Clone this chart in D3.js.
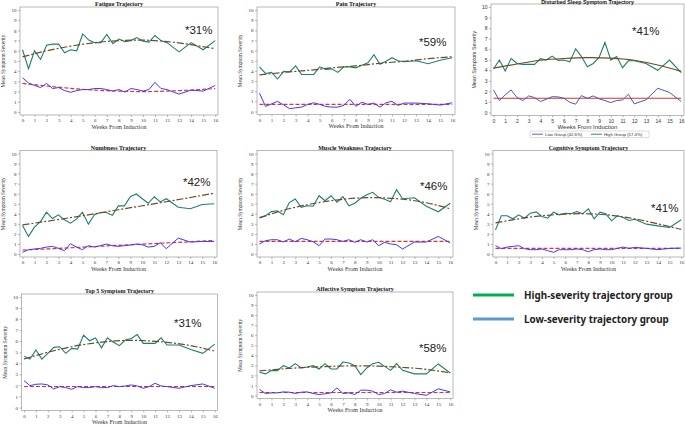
<!DOCTYPE html>
<html>
<head>
<meta charset="utf-8">
<script src="https://cdn.jsdelivr.net/npm/d3@7"></script>
<style>
  body { margin: 0; background: #fff; }
</style>
</head>
<body>
<div class="chart"></div>
<script>
// weeks from induction (half weeks up to 12, then weekly)
const weeks = [0, 0.5, 1, 1.5, 2, 2.5, 3, 3.5, 4, 4.5, 5, 5.5, 6, 6.5, 7, 7.5, 8, 8.5, 9, 9.5, 10, 10.5, 11, 11.5, 12, 13, 14, 15, 16];
const trendWeeks = [0, 2, 4, 6, 8, 10, 12, 14, 16];
const xTicks = d3.range(0, 17);
const yTicks = d3.range(0, 11);

const fatigueHigh = [6.1, 4.25, 6.0, 5.15, 6.55, 6.65, 6.65, 5.8, 6.1, 6.0, 7.65, 7.05, 6.8, 6.8, 7.6, 6.7, 7.15, 6.9, 7.0, 7.3, 6.95, 6.85, 7.5, 7.0, 6.8, 5.9, 6.8, 6.1, 7.0];
const fatigueLow = [3.35, 2.85, 2.6, 2.4, 2.8, 2.3, 2.4, 2.1, 1.93, 2.1, 2.2, 2.2, 2.3, 2.3, 2.2, 2.05, 2.2, 1.95, 2.3, 2.2, 2.05, 2.2, 2.9, 2.3, 2.2, 1.75, 2.15, 2.05, 2.6];
const fatigueHighTrend = [5.4, 6.0, 6.45, 6.8, 7.0, 7.05, 6.9, 6.6, 6.2];
const fatigueLowTrend = [2.8, 2.55, 2.32, 2.15, 2.05, 2.0, 2.05, 2.15, 2.3];

const painHigh = [4.4, 3.75, 3.85, 3.2, 3.95, 3.9, 4.5, 3.65, 3.65, 3.65, 4.4, 4.15, 4.2, 3.85, 4.4, 4.4, 4.3, 4.55, 4.8, 5.6, 4.65, 4.95, 5.3, 5.0, 4.9, 5.0, 4.7, 5.05, 5.3];
const painLow = [1.8, 0.5, 0.75, 1.0, 0.65, 0.28, 0.36, 0.43, 0.7, 0.86, 0.7, 0.5, 0.43, 0.43, 0.6, 1.2, 0.5, 0.92, 0.7, 0.83, 0.43, 0.86, 1.0, 0.6, 0.83, 0.83, 0.76, 0.63, 0.86];
const painHighTrend = [3.6, 3.85, 4.05, 4.3, 4.5, 4.75, 4.95, 5.2, 5.4];
const painLowTrend = [0.7, 0.7, 0.7, 0.7, 0.7, 0.7, 0.7, 0.7, 0.7];

const sleepHigh = [4.12, 4.97, 3.93, 5.13, 4.65, 4.56, 4.56, 4.56, 5.1, 4.97, 5.35, 4.94, 4.97, 4.8, 6.04, 5.3, 4.34, 4.65, 5.22, 6.64, 4.97, 5.3, 4.25, 4.9, 4.9, 4.65, 4.0, 4.97, 3.77];
const sleepLow = [2.14, 1.13, 1.67, 2.14, 1.42, 1.13, 1.57, 1.42, 1.04, 1.26, 1.5, 1.48, 1.35, 0.97, 0.79, 1.6, 1.35, 1.57, 1.3, 1.13, 0.94, 1.13, 1.19, 1.73, 0.82, 1.2, 2.3, 1.9, 1.04];
const sleepHighTrend = [4.2, 4.6, 4.95, 5.12, 5.2, 5.15, 4.95, 4.5, 3.9];
const sleepLowTrend = [1.35, 1.35, 1.35, 1.35, 1.35, 1.35, 1.35, 1.35, 1.35];

const numbHigh = [2.84, 1.75, 2.67, 3.23, 4.16, 3.53, 3.9, 3.4, 3.07, 3.47, 4.16, 2.97, 3.9, 4.13, 4.13, 3.86, 4.79, 4.79, 5.7, 5.97, 5.5, 5.05, 5.7, 5.18, 5.5, 4.65, 4.5, 4.92, 5.0];
const numbLow = [0.17, 0.43, 0.5, 0.56, 0.69, 0.76, 0.56, 0.33, 1.02, 0.69, 0.43, 0.83, 0.69, 0.83, 0.99, 0.83, 0.76, 0.83, 0.89, 0.99, 0.92, 0.69, 0.76, 1.12, 0.53, 1.58, 1.19, 1.25, 1.25];
const numbHighTrend = [2.9, 3.25, 3.62, 4.0, 4.4, 4.8, 5.2, 5.62, 6.05];
const numbLowTrend = [0.4, 0.5, 0.62, 0.74, 0.86, 0.98, 1.1, 1.22, 1.35];

const muscleHigh = [3.63, 3.8, 4.22, 4.3, 3.9, 5.12, 5.48, 4.65, 4.8, 4.75, 5.8, 5.3, 5.8, 5.15, 5.7, 4.8, 5.05, 5.55, 5.9, 6.14, 5.64, 5.45, 5.2, 6.4, 5.5, 5.6, 4.75, 4.2, 5.05];
const muscleLow = [1.0, 1.32, 1.42, 1.42, 1.19, 1.49, 1.22, 1.55, 1.42, 1.22, 0.83, 1.49, 1.49, 1.42, 1.25, 1.42, 1.16, 1.42, 1.19, 1.42, 0.83, 1.16, 1.0, 0.92, 0.5, 1.19, 1.19, 1.75, 1.1];
const muscleHighTrend = [3.6, 4.35, 4.9, 5.3, 5.55, 5.6, 5.45, 5.1, 4.5];
const muscleLowTrend = [1.25, 1.25, 1.25, 1.25, 1.25, 1.25, 1.25, 1.25, 1.25];

const cogHigh = [2.4, 3.8, 3.8, 3.5, 3.9, 3.56, 4.06, 4.19, 3.73, 3.56, 4.16, 3.9, 4.06, 4.0, 4.22, 4.0, 4.5, 3.5, 4.16, 4.0, 3.3, 3.8, 3.63, 3.33, 3.46, 2.97, 2.8, 2.64, 3.4];
const cogLow = [0.83, 0.53, 0.69, 0.76, 0.83, 0.53, 0.43, 0.43, 0.5, 0.33, 0.17, 0.43, 0.43, 0.43, 0.5, 0.43, 0.23, 0.43, 0.5, 0.43, 0.43, 0.56, 0.69, 0.56, 0.66, 0.56, 0.43, 0.56, 0.59];
const cogHighTrend = [3.1, 3.5, 3.8, 3.97, 4.0, 3.85, 3.5, 3.0, 2.45];
const cogLowTrend = [0.55, 0.55, 0.55, 0.55, 0.55, 0.55, 0.55, 0.55, 0.55];

const top5High = [4.65, 4.38, 5.2, 4.38, 4.9, 5.44, 5.5, 4.9, 5.35, 5.29, 6.55, 6.04, 6.3, 5.4, 6.3, 5.9, 5.6, 6.1, 6.25, 6.6, 5.8, 5.8, 5.8, 6.3, 5.65, 5.65, 5.25, 4.9, 5.74];
const top5Low = [2.43, 1.98, 2.1, 2.13, 2.04, 1.68, 1.89, 1.8, 1.65, 1.89, 1.8, 1.8, 1.89, 1.8, 1.8, 1.98, 1.89, 1.95, 2.04, 1.95, 1.74, 1.89, 2.19, 1.95, 1.89, 1.74, 1.98, 2.13, 1.74];
const top5HighTrend = [4.4, 5.0, 5.5, 5.85, 6.05, 6.05, 5.9, 5.6, 5.1];
const top5LowTrend = [1.9, 1.9, 1.9, 1.9, 1.9, 1.9, 1.9, 1.9, 1.9];

const affHigh = [2.31, 2.15, 2.48, 2.48, 2.97, 2.74, 3.17, 2.74, 2.84, 2.97, 2.64, 3.17, 2.64, 2.64, 3.33, 3.23, 2.97, 2.08, 2.74, 3.17, 3.3, 2.9, 2.5, 3.17, 2.5, 2.15, 2.15, 3.14, 2.24];
const affLow = [0.6, 0.2, 0.26, 0.26, 0.36, 0.33, 0.2, 0.33, 0.36, 0.2, 0.1, 0.17, 0.26, 0.76, 0.2, 0.26, 0.1, 0.53, 0.53, 0.43, 0.1, 0.2, 0.56, 0.33, 0.43, 0.2, 0.02, 0.66, 0.36];
const affHighTrend = [2.45, 2.65, 2.8, 2.9, 2.95, 2.92, 2.8, 2.6, 2.25];
const affLowTrend = [0.3, 0.3, 0.3, 0.3, 0.3, 0.3, 0.3, 0.3, 0.3];

const titles = ['Fatigue Trajectory', 'Pain Trajectory', 'Disturbed Sleep Symptom Trajectory',
  'Numbness Trajectory', 'Muscle Weakness Trajectory', 'Cognitive Symptom Trajectory',
  'Top 5 Symptom Trajectory', 'Affective Symptom Trajectory'];
const percents = ['*31%', '*59%', '*41%', '*42%', '*46%', '*41%', '*31%', '*58%'];
const sleepLegend = ['Low Group (42.6%)', 'High Group (57.4%)'];
const mainLegend = ['High-severity trajectory group', 'Low-severity trajectory group'];

// layout: frame box [x, y, w, h] and position of the percentage label
const panels = [
  { box: [20, 7, 198, 108], pct: [185, 33.5], high: fatigueHigh, low: fatigueLow, ht: fatigueHighTrend, lt: fatigueLowTrend },
  { box: [257, 7, 198, 107.5], pct: [419, 46], high: painHigh, low: painLow, ht: painHighTrend, lt: painLowTrend },
  { box: [491, 4, 193, 111.5], pct: [632, 35], high: sleepHigh, low: sleepLow, ht: sleepHighTrend, lt: sleepLowTrend, sas: true },
  { box: [20, 150.5, 197, 106.5], pct: [183, 186], high: numbHigh, low: numbLow, ht: numbHighTrend, lt: numbLowTrend },
  { box: [257, 150.5, 196, 106.5], pct: [420, 190], high: muscleHigh, low: muscleLow, ht: muscleHighTrend, lt: muscleLowTrend },
  { box: [493, 150.5, 191, 106.5], pct: [651, 212], high: cogHigh, low: cogLow, ht: cogHighTrend, lt: cogLowTrend },
  { box: [21.5, 294, 196, 116.5], pct: [174, 327], high: top5High, low: top5Low, ht: top5HighTrend, lt: top5LowTrend },
  { box: [257, 292, 196, 106.5], pct: [419, 352], high: affHigh, low: affLow, ht: affHighTrend, lt: affLowTrend }
];

const serif = 'Liberation Serif, Times New Roman, serif';
const sans = 'Liberation Sans, Arial, sans-serif';

const svg = d3.select('.chart')
  .append('svg')
  .attr('width', 685)
  .attr('height', 426);

panels.forEach((p, i) => {
  const [bx, by, bw, bh] = p.box;
  const font = p.sas ? sans : serif;
  const g = svg.append('g');

  const x = d3.scaleLinear().domain([0, 16]).range([bx + 2.5, bx + bw - 2.8]);
  const y = d3.scaleLinear().domain([0, 10]).range([by + bh - 3, by + 3]);

  g.append('rect')
    .attr('x', bx).attr('y', by).attr('width', bw).attr('height', bh)
    .attr('fill', 'none').attr('stroke', '#8a8a8a').attr('stroke-width', 0.6);

  const xAxis = g.append('g')
    .attr('transform', `translate(0, ${by + bh})`)
    .call(d3.axisBottom(x).tickValues(xTicks).tickSize(2).tickPadding(1.5).tickFormat(d3.format('d')));
  const yAxis = g.append('g')
    .attr('transform', `translate(${bx}, 0)`)
    .call(d3.axisLeft(y).tickValues(yTicks).tickSize(2).tickPadding(1.5).tickFormat(d3.format('d')));

  [xAxis, yAxis].forEach(a => {
    a.select('.domain').remove();
    a.selectAll('line').attr('stroke', '#777').attr('stroke-width', 0.5);
    a.selectAll('text').attr('font-size', 5).attr('font-family', font).attr('fill', '#333');
  });

  g.append('text')
    .attr('x', bx + bw / 2).attr('y', by + bh + 13.5)
    .attr('text-anchor', 'middle')
    .attr('font-family', font).attr('font-size', 6).attr('fill', '#333')
    .text('Weeks From Induction');

  g.append('text')
    .attr('transform', `translate(${bx - 15}, ${by + bh / 2}) rotate(-90)`)
    .attr('text-anchor', 'middle')
    .attr('font-family', font).attr('font-size', 5.3).attr('fill', '#333')
    .text('Mean Symptom Severity');

  g.append('text')
    .attr('x', bx + bw / 2).attr('y', p.sas ? by - 0.5 : by - 1)
    .attr('text-anchor', 'middle')
    .attr('font-family', font).attr('font-weight', 'bold')
    .attr('font-size', p.sas ? 5.3 : 6).attr('fill', '#111')
    .text(titles[i]);

  const dataLine = d3.line().x((d, k) => x(weeks[k])).y(d => y(d));
  const trendLine = d3.line().x((d, k) => x(trendWeeks[k])).y(d => y(d)).curve(d3.curveNatural);

  g.append('path').datum(p.lt)
    .attr('d', trendLine).attr('fill', 'none')
    .attr('stroke', p.sas ? '#d8352b' : '#e8302a').attr('stroke-width', 1.2)
    .attr('stroke-dasharray', p.sas ? null : '4,2');
  g.append('path').datum(p.low)
    .attr('d', dataLine).attr('fill', 'none')
    .attr('stroke', p.sas ? '#4a5bb0' : '#3a3aff').attr('stroke-width', 1);
  g.append('path').datum(p.high)
    .attr('d', dataLine).attr('fill', 'none')
    .attr('stroke', '#1f7f6c').attr('stroke-width', 1.1);
  g.append('path').datum(p.ht)
    .attr('d', trendLine).attr('fill', 'none')
    .attr('stroke', '#6e4a2a').attr('stroke-width', 1.2)
    .attr('stroke-dasharray', p.sas ? null : '7,2,2,2');

  g.append('text')
    .attr('x', p.pct[0]).attr('y', p.pct[1])
    .attr('font-family', sans).attr('font-size', 11.5).attr('fill', '#222')
    .text(percents[i]);

  if (p.sas) {
    // small legend under the sleep panel
    const lg = g.append('g');
    lg.append('rect')
      .attr('x', 530).attr('y', 131).attr('width', 119).attr('height', 6.5)
      .attr('fill', 'none').attr('stroke', '#aaa').attr('stroke-width', 0.4);
    const items = [
      { x: 532, color: '#4a5bb0' },
      { x: 591, color: '#1f7f6c' }
    ];
    items.forEach((it, k) => {
      lg.append('line')
        .attr('x1', it.x).attr('x2', it.x + 11).attr('y1', 134.2).attr('y2', 134.2)
        .attr('stroke', it.color).attr('stroke-width', 0.9);
      lg.append('text')
        .attr('x', it.x + 13).attr('y', 135.8)
        .attr('font-family', sans).attr('font-size', 4.3).attr('fill', '#333')
        .text(sleepLegend[k]);
    });
  }
});

// main legend (bottom right); text squeezed horizontally to the narrow width of the original
const legendColors = ['#00b050', '#5b9bd5'];
const legendY = [295, 319];
const legendWidth = [149, 145];
mainLegend.forEach((label, k) => {
  svg.append('line')
    .attr('x1', 473).attr('x2', 514).attr('y1', legendY[k]).attr('y2', legendY[k])
    .attr('stroke', legendColors[k]).attr('stroke-width', 3);
  const t = svg.append('text')
    .attr('font-family', 'Noto Sans, Open Sans, sans-serif').attr('font-weight', 'bold')
    .attr('font-size', 11).attr('fill', '#222')
    .text(label);
  const w = t.node().getComputedTextLength();
  t.attr('transform', `translate(524, ${legendY[k] + 4}) scale(${legendWidth[k] / w}, 1)`);
});
</script>
</body>
</html>
